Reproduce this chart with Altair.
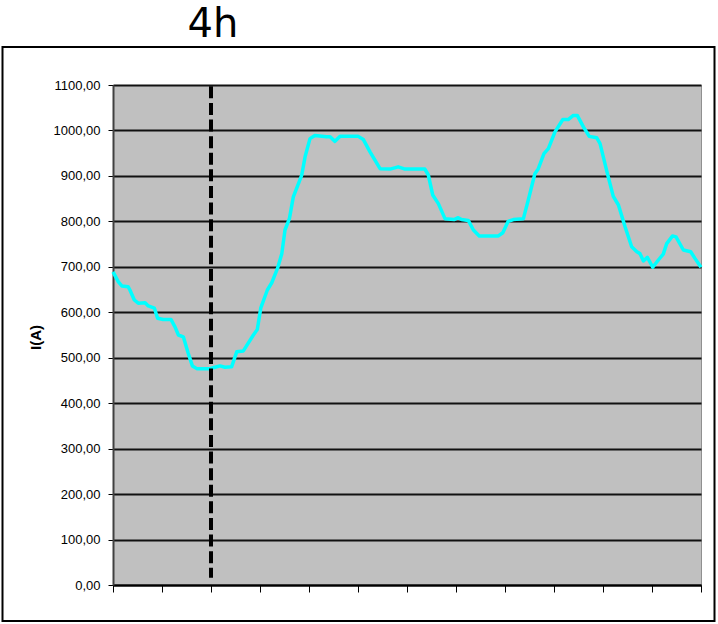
import altair as alt
import pandas as pd

# Load current over one day (hours since 00:00 -> amperes)
hours = [0.0, 0.22, 0.36, 0.62, 0.69, 0.87, 1.03, 1.31, 1.44, 1.69, 1.82, 2.05,
         2.37, 2.53, 2.67, 2.87, 3.07, 3.24, 3.42, 3.96, 4.16, 4.37, 4.57, 4.84,
         5.05, 5.32, 5.73, 5.89, 6.03, 6.30, 6.48, 6.71, 6.89, 7.02, 7.20, 7.36,
         7.70, 7.84, 8.04, 8.24, 8.72, 8.86, 9.06, 9.27, 10.01, 10.22, 10.49,
         10.90, 11.31, 11.64, 11.92, 12.73, 12.87, 13.05, 13.28, 13.55, 13.92,
         14.09, 14.23, 14.50, 14.71, 14.95, 15.73, 15.91, 16.13, 16.34, 16.75,
         16.95, 17.22, 17.36, 17.59, 17.77, 18.04, 18.36, 18.58, 18.79, 18.95,
         19.20, 19.44, 19.74, 19.88, 20.18, 20.42, 20.63, 20.90, 21.17, 21.38,
         21.51, 21.65, 21.81, 22.03, 22.26, 22.46, 22.60, 22.84, 22.98, 23.28,
         23.58, 23.76, 24.0]
current = [689, 667, 658, 656, 649, 627, 620, 621, 614, 609, 587, 584,
           584, 568, 550, 546, 510, 482, 476, 476, 479, 482, 479, 480,
           513, 515, 550, 562, 609, 649, 665, 696, 729, 781, 806, 854,
           901, 942, 982, 989, 986, 986, 976, 987, 987, 980, 953,
           916, 915, 920, 915, 915, 902, 858, 839, 806, 804,
           808, 804, 802, 781, 768, 768, 775, 800, 804, 806,
           847, 905, 916, 949, 960, 997, 1024, 1024, 1033, 1033,
           1008, 987, 984, 971, 905, 855, 836, 788, 744, 733,
           729, 713, 721, 699, 715, 728, 751, 768, 766, 737,
           733, 718, 699]

# Marker at 4 h
marker_hour = [4.0]
marker_top = [1097]
marker_bottom = [16]

title_text = ["4h"]
x_ticks = list(range(0, 25, 2))
y_ticks = list(range(0, 1101, 100))

load = pd.DataFrame({"h": hours, "i": current})
marker = pd.DataFrame({"h": marker_hour, "top": marker_top, "bottom": marker_bottom})
title_df = pd.DataFrame({"t": title_text})

x_scale = alt.Scale(domain=[0, 24], nice=False, zero=False)
y_scale = alt.Scale(domain=[0, 1100], nice=False)

x_axis = alt.Axis(values=x_ticks, labels=False, title=None, grid=False,
                  tickSize=7, tickColor="#000000", tickWidth=1,
                  domainColor="#000000", domainWidth=2)
y_axis = alt.Axis(values=y_ticks, title="I(A)", grid=True,
                  gridColor="#111111", gridWidth=2,
                  labelExpr="replace(format(datum.value, '.2f'), '.', ',')",
                  labelFont="Liberation Sans", labelFontSize=13,
                  labelColor="#000000", labelPadding=8,
                  tickSize=5, tickColor="#000000", tickWidth=1,
                  domainColor="#404040", domainWidth=2,
                  titleFont="Liberation Sans", titleFontSize=15,
                  titleFontWeight="bold", titleColor="#000000",
                  titleAngle=-90, titleAlign="center", titleBaseline="middle",
                  titleX=-78, titleY=252)

line = alt.Chart(load).mark_line(color="#00FFFF", strokeWidth=3.5,
                                 strokeJoin="round", interpolate="linear").encode(
    x=alt.X("h:Q", scale=x_scale, axis=x_axis),
    y=alt.Y("i:Q", scale=y_scale, axis=y_axis),
)

dashed = alt.Chart(marker).mark_rule(color="#000000", strokeWidth=4,
                                     strokeDash=[12, 4.6], strokeCap="butt").encode(
    x=alt.X("h:Q", scale=x_scale, axis=x_axis),
    y=alt.Y("top:Q", scale=y_scale, axis=y_axis),
    y2="bottom:Q",
)

heading = alt.Chart(title_df).mark_text(font="DejaVu Sans", fontSize=40,
                                        color="#000000", align="center",
                                        baseline="alphabetic").encode(
    text="t:N",
    x=alt.value(100),
    y=alt.value(-48),
)

frame = alt.Chart(title_df).mark_rect(fill=None, fillOpacity=0, stroke="#000000",
                                      strokeWidth=2).encode(
    x=alt.value(-110.5), x2=alt.value(601.5),
    y=alt.value(-38), y2=alt.value(536),
)

chart = alt.layer(line, dashed, heading, frame).properties(
    width=588,
    height=500,
    autosize=alt.AutoSizeParams(type="none"),
    padding={"left": 113, "top": 85, "right": 17, "bottom": 39},
    background="#FFFFFF",
).configure_view(
    fill="#C0C0C0",
    stroke="#909090",
    strokeWidth=1,
)

chart.save("out.html", embed_options={"renderer": "svg", "actions": False})
